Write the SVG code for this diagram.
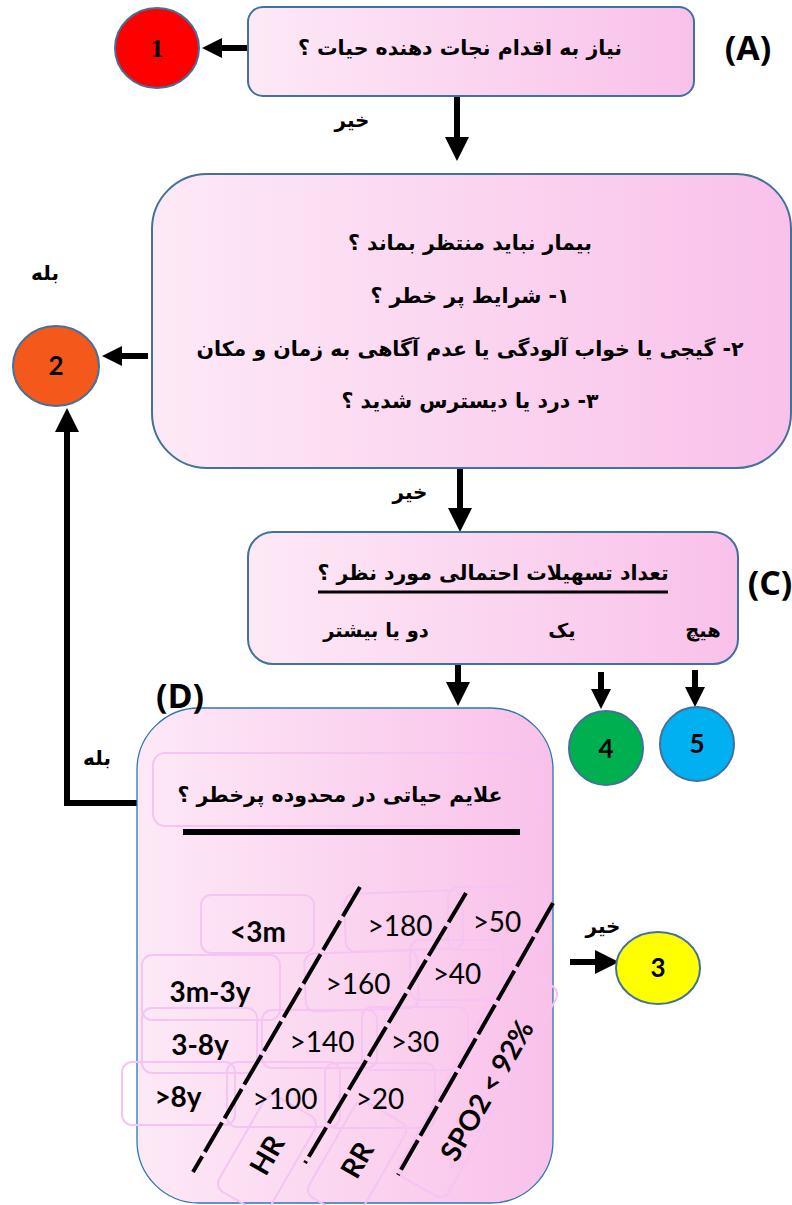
<svg xmlns="http://www.w3.org/2000/svg" width="792" height="1205" viewBox="0 0 792 1205">
  <defs>
    <linearGradient id="pinkFill" x1="0" y1="0" x2="1" y2="0">
      <stop offset="0" stop-color="#FDE9F6"/>
      <stop offset="1" stop-color="#F9C1EA"/>
    </linearGradient>
    <marker id="head" viewBox="0 0 24 24" markerWidth="24" markerHeight="24" refX="6" refY="12" orient="auto" markerUnits="userSpaceOnUse">
      <path d="M0,0 L24,12 L0,24 z" fill="#000"/>
    </marker>
    <marker id="headS" viewBox="0 0 24 24" markerWidth="20" markerHeight="20" refX="6" refY="12" orient="auto" markerUnits="userSpaceOnUse">
      <path d="M0,0 L24,12 L0,24 z" fill="#000"/>
    </marker>
  </defs>
  <style>
    .box { fill: url(#pinkFill); stroke: #41719C; stroke-width: 2; }
    .boxD { fill: url(#pinkFill); stroke: #2E75B6; stroke-width: 1.3; }
    .fa { font-family: "DejaVu Sans", "Noto Sans", sans-serif; font-weight: bold; fill: #000; }
    .tag { font-family: "Open Sans", "Liberation Sans", sans-serif; font-weight: bold; font-size: 34px; fill: #000; }
    .num { font-family: Lato, "Liberation Sans", sans-serif; font-weight: bold; font-size: 26px; fill: #000; }
    .circ { stroke: #41719C; stroke-width: 2; }
    .conn { stroke: #000; stroke-width: 6; fill: none; }
    .faint { fill: none; stroke: #F6C4F3; stroke-width: 2; }
    .val { font-family: Lato, "Liberation Sans", sans-serif; font-size: 28px; fill: #000; }
    .age { font-family: Lato, "Liberation Sans", sans-serif; font-weight: bold; font-size: 28px; fill: #000; }
    .dash { stroke: #000; stroke-width: 4; stroke-dasharray: 34 5; }
  </style>

  <!-- connectors -->
  <g id="connectors">
    <line class="conn" x1="248" y1="48" x2="217" y2="48" marker-end="url(#headS)"/>
    <line class="conn" x1="457" y1="96" x2="457" y2="143" marker-end="url(#head)"/>
    <line class="conn" x1="148" y1="356" x2="117" y2="356" marker-end="url(#headS)"/>
    <line class="conn" x1="460" y1="469" x2="460" y2="514" marker-end="url(#head)"/>
    <line class="conn" x1="458" y1="662" x2="458" y2="688" marker-end="url(#head)"/>
    <line class="conn" x1="601" y1="672" x2="601" y2="694" marker-end="url(#headS)"/>
    <line class="conn" x1="695" y1="670" x2="695" y2="692" marker-end="url(#headS)"/>
    <polyline class="conn" stroke-width="5" points="137,803 67,803 67,426" marker-end="url(#head)"/>
    <line class="conn" x1="570" y1="962" x2="601" y2="962" marker-end="url(#head)"/>
    <text class="fa" x="352" y="127" font-size="20" text-anchor="middle" direction="rtl">خیر</text>
    <text class="fa" x="410" y="499" font-size="20" text-anchor="middle" direction="rtl">خیر</text>
    <text class="fa" x="603" y="933" font-size="20" text-anchor="middle" direction="rtl">خیر</text>
    <text class="fa" x="45" y="280" font-size="20" text-anchor="middle" direction="rtl">بله</text>
    <text class="fa" x="97" y="765" font-size="20" text-anchor="middle" direction="rtl">بله</text>
  </g>

  <!-- A: life-saving intervention -->
  <g id="nodeA">
    <rect class="box" x="248" y="7" width="446" height="89" rx="15"/>
    <text class="fa" x="460" y="55" font-size="20.5" text-anchor="middle" direction="rtl">نیاز به اقدام نجات دهنده حیات ؟</text>
    <text class="tag" x="748" y="60" text-anchor="middle">(A)</text>
  </g>

  <g id="node1">
    <ellipse class="circ" cx="157" cy="48" rx="42" ry="40" fill="#FF0000"/>
    <text x="157" y="57" font-family="Liberation Serif, serif" font-weight="bold" font-size="26" text-anchor="middle">1</text>
  </g>

  <!-- B: high-risk situation -->
  <g id="nodeB">
    <rect class="box" x="152" y="174" width="639" height="294" rx="55"/>
    <text class="fa" x="470" y="250" font-size="20.5" text-anchor="middle" direction="rtl">بیمار نباید منتظر بماند ؟</text>
    <text class="fa" x="470" y="303" font-size="20.5" text-anchor="middle" direction="rtl">۱- شرایط پر خطر ؟</text>
    <text class="fa" x="470" y="356" font-size="20.5" text-anchor="middle" direction="rtl">۲- گیجی یا خواب آلودگی یا عدم آگاهی به زمان و مکان</text>
    <text class="fa" x="470" y="408" font-size="20.5" text-anchor="middle" direction="rtl">۳- درد یا دیسترس شدید ؟</text>
  </g>

  <g id="node2">
    <ellipse class="circ" cx="56" cy="366" rx="43" ry="40" fill="#F4581B"/>
    <text class="num" x="56" y="375" text-anchor="middle">2</text>
  </g>

  <!-- C: expected resources -->
  <g id="nodeC">
    <rect class="box" x="248" y="532" width="490" height="132" rx="25"/>
    <text class="fa" x="493" y="580" font-size="20.5" text-anchor="middle" direction="rtl">تعداد تسهیلات احتمالی مورد نظر ؟</text>
    <line x1="318" y1="592" x2="668" y2="592" stroke="#000" stroke-width="3"/>
    <text class="fa" x="703" y="637" font-size="19.5" text-anchor="middle" direction="rtl">هیچ</text>
    <text class="fa" x="562" y="637" font-size="19.5" text-anchor="middle" direction="rtl">یک</text>
    <text class="fa" x="376" y="637" font-size="19.5" text-anchor="middle" direction="rtl">دو یا بیشتر</text>
    <text class="tag" x="770" y="595" text-anchor="middle">(C)</text>
  </g>

  <g id="node4">
    <circle class="circ" cx="606" cy="748" r="37" fill="#00B050"/>
    <text class="num" x="606" y="758" text-anchor="middle">4</text>
  </g>

  <g id="node5">
    <circle class="circ" cx="697" cy="744" r="37" fill="#00B0F0"/>
    <text class="num" x="697" y="753" text-anchor="middle">5</text>
  </g>

  <!-- D: vital signs in danger zone -->
  <g id="nodeD">
    <rect class="boxD" x="137" y="708" width="416" height="495" rx="62"/>
    <text class="tag" x="180" y="708" text-anchor="middle">(D)</text>
    <rect class="faint" x="153" y="753" width="390" height="73" rx="12"/>
    <text class="fa" x="340" y="802" font-size="20.5" text-anchor="middle" direction="rtl">علایم حیاتی در محدوده پرخطر ؟</text>
    <line x1="183" y1="832" x2="520" y2="832" stroke="#000" stroke-width="6"/>

    <!-- faint cell frames -->
    <rect class="faint" x="201" y="895" width="113" height="58" rx="10"/>
    <rect class="faint" x="142" y="955" width="138" height="65" rx="10"/>
    <rect class="faint" x="142" y="1008" width="115" height="65" rx="10"/>
    <rect class="faint" x="122" y="1062" width="113" height="63" rx="10"/>
    <rect class="faint" x="345" y="892" width="118" height="58" rx="10" transform="rotate(-2 404 921)"/>
    <rect class="faint" x="448" y="887" width="97" height="63" rx="10"/>
    <rect class="faint" x="305" y="952" width="113" height="58" rx="10" transform="rotate(-2 361 981)"/>
    <rect class="faint" x="410" y="940" width="93" height="60" rx="10"/>
    <rect class="faint" x="262" y="1010" width="115" height="58" rx="10"/>
    <rect class="faint" x="362" y="1007" width="106" height="63" rx="10"/>
    <rect class="faint" x="227" y="1062" width="113" height="65" rx="10"/>
    <rect class="faint" x="325" y="1063" width="110" height="65" rx="10"/>
    <rect class="faint" x="212" y="1125" width="110" height="58" rx="10" transform="rotate(-60 267 1154)"/>
    <rect class="faint" x="302" y="1131" width="110" height="58" rx="10" transform="rotate(-60 357 1160)"/>
    <rect class="faint" x="358" y="1054" width="240" height="56" rx="10" transform="rotate(-61 478 1082)"/>

    <!-- dashed column dividers -->
    <line class="dash" x1="360" y1="887" x2="193" y2="1172"/>
    <line class="dash" x1="466" y1="893" x2="305" y2="1163"/>
    <line class="dash" x1="553" y1="903" x2="398" y2="1175"/>

    <!-- age groups -->
    <text class="age" x="258" y="942" text-anchor="middle">&lt;3m</text>
    <text class="age" x="210" y="1002" text-anchor="middle">3m-3y</text>
    <text class="age" x="200" y="1055" text-anchor="middle">3-8y</text>
    <text class="age" x="178" y="1107" text-anchor="middle">&gt;8y</text>

    <!-- HR thresholds -->
    <text class="val" x="400" y="936" text-anchor="middle">&gt;180</text>
    <text class="val" x="358" y="994" text-anchor="middle">&gt;160</text>
    <text class="val" x="322" y="1052" text-anchor="middle">&gt;140</text>
    <text class="val" x="285" y="1109" text-anchor="middle">&gt;100</text>

    <!-- RR thresholds -->
    <text class="val" x="497" y="932" text-anchor="middle">&gt;50</text>
    <text class="val" x="457" y="984" text-anchor="middle">&gt;40</text>
    <text class="val" x="415" y="1052" text-anchor="middle">&gt;30</text>
    <text class="val" x="380" y="1109" text-anchor="middle">&gt;20</text>

    <!-- column headings -->
    <text class="age" x="0" y="0" text-anchor="middle" transform="translate(267 1155) rotate(-60) translate(0 10)">HR</text>
    <text class="age" x="0" y="0" text-anchor="middle" transform="translate(357 1160) rotate(-60) translate(0 10)">RR</text>
    <text class="age" x="0" y="0" font-size="31" text-anchor="middle" transform="translate(486 1090) rotate(-60) translate(0 11)">SPO2 &lt; 92%</text>
  </g>

  <g id="node3">
    <ellipse class="circ" cx="658" cy="968" rx="42" ry="36" fill="#FFFF00"/>
    <text class="num" x="658" y="977" text-anchor="middle">3</text>
  </g>
</svg>
